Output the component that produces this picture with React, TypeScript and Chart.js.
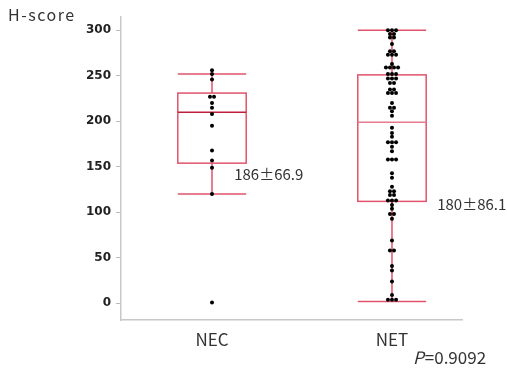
import React, { useEffect, useRef } from 'react';
import { Chart, registerables } from 'chart.js';

Chart.register(...registerables);

// ---- data ----
const categories = ['NEC', 'NET'];
const necValues = [256, 252, 246, 227, 227, 220, 215, 208, 195, 168, 157, 149, 120, 1];
const netValues = [
  300, 300, 300, 296, 296, 292, 292, 285, 277, 277, 273, 273, 273, 263,
  259, 259, 259, 259, 252, 252, 252, 247, 247, 247, 242, 242, 235, 235,
  231, 231, 231, 220, 215, 215, 211, 206, 193, 187, 183, 177, 177, 177,
  172, 167, 158, 158, 158, 143, 138, 128, 123, 123, 119, 119, 113, 113,
  113, 108, 104, 98, 98, 93, 69, 58, 58, 41, 36, 24, 9, 4, 4, 4,
];
const boxMin = [120, 2];
const boxQ1 = [154, 112];
const boxMedian = [210, 199];
const boxQ3 = [231, 251];
const boxMax = [252, 300];
const yTickValues = [0, 50, 100, 150, 200, 250, 300];
const summaryTexts = ['186\u00b166.9', '180\u00b186.1'];
const summaryAnchorY = [142, 109];
const pValueText = '=0.9092';

// ---- styling constants ----
const BOX_HALF = 0.19;
const DOT_SPACING = 0.0225;
const BOX_COLOR = '#e0536b';
const MEDIAN_COLORS = ['#c01f3c', '#e6798b'];
const FONT = '"Noto Sans CJK JP", "Noto Sans", sans-serif';

function swarm(values: number[], center: number) {
  const sorted = [...values].sort((a, b) => b - a);
  const groups: number[][] = [];
  for (const v of sorted) {
    const g = groups[groups.length - 1];
    if (g && g[0] === v) g.push(v);
    else groups.push([v]);
  }
  const pts: { x: number; y: number }[] = [];
  for (const g of groups) {
    g.forEach((v, i) => pts.push({ x: center + (i - (g.length - 1) / 2) * DOT_SPACING, y: v }));
  }
  return pts;
}

const boxPlugin = {
  id: 'boxes',
  beforeDatasetsDraw(chart: any) {
    const { ctx, scales } = chart;
    const xs = scales.x;
    const ys = scales.y;
    ctx.save();
    categories.forEach((_, i) => {
      const c = i + 1;
      const xl = xs.getPixelForValue(c - BOX_HALF);
      const xr = xs.getPixelForValue(c + BOX_HALF);
      const xc = xs.getPixelForValue(c);
      const yMin = ys.getPixelForValue(boxMin[i]);
      const yQ1 = ys.getPixelForValue(boxQ1[i]);
      const yMed = ys.getPixelForValue(boxMedian[i]);
      const yQ3 = ys.getPixelForValue(boxQ3[i]);
      const yMax = ys.getPixelForValue(boxMax[i]);
      ctx.lineWidth = 1.5;
      ctx.strokeStyle = BOX_COLOR;
      ctx.strokeRect(xl, yQ3, xr - xl, yQ1 - yQ3);
      ctx.beginPath();
      ctx.moveTo(xc, yQ3);
      ctx.lineTo(xc, yMax);
      ctx.moveTo(xc, yQ1);
      ctx.lineTo(xc, yMin);
      ctx.moveTo(xl, yMax);
      ctx.lineTo(xr, yMax);
      ctx.moveTo(xl, yMin);
      ctx.lineTo(xr, yMin);
      ctx.stroke();
      ctx.strokeStyle = MEDIAN_COLORS[i];
      ctx.beginPath();
      ctx.moveTo(xl, yMed);
      ctx.lineTo(xr, yMed);
      ctx.stroke();
    });
    ctx.restore();
  },
  afterDraw(chart: any) {
    const { ctx, scales } = chart;
    const xs = scales.x;
    const ys = scales.y;
    ctx.save();
    ctx.fillStyle = '#333';
    ctx.textBaseline = 'middle';
    ctx.textAlign = 'left';
    ctx.font = `16px ${FONT}`;
    (ctx as any).letterSpacing = '1.5px';
    ctx.fillText('H-score', 8, 15);
    (ctx as any).letterSpacing = '0px';
    ctx.font = `15px ${FONT}`;
    categories.forEach((_, i) => {
      const x = xs.getPixelForValue(i + 1 + BOX_HALF) + (i === 0 ? -12 : 11);
      const y = ys.getPixelForValue(summaryAnchorY[i]);
      ctx.fillText(summaryTexts[i], x, y);
    });
    ctx.font = `italic 17px ${FONT}`;
    const px = 413;
    const py = 358;
    ctx.fillText('P', px, py);
    const pw = ctx.measureText('P').width;
    ctx.font = `17px ${FONT}`;
    ctx.fillText(pValueText, px + pw + 1, py);
    ctx.restore();
  },
};

export default function App() {
  const ref = useRef<HTMLCanvasElement | null>(null);
  useEffect(() => {
    if (!ref.current) return;
    const chart = new Chart(ref.current, {
      type: 'scatter',
      data: {
        datasets: [
          {
            data: swarm(necValues, 1),
            backgroundColor: '#000',
            borderWidth: 0,
            pointRadius: 2,
          },
          {
            data: swarm(netValues, 2),
            backgroundColor: '#000',
            borderWidth: 0,
            pointRadius: 2,
          },
        ],
      },
      options: {
        responsive: false,
        animation: false,
        layout: { padding: { top: 17, right: 45, left: 0, bottom: 0 } },
        plugins: { legend: { display: false }, tooltip: { enabled: false } },
        scales: {
          x: {
            type: 'linear',
            min: 0.4944,
            max: 2.389,
            grid: { display: false },
            border: { display: true, color: '#c8c8c8', width: 1.5 },
            afterBuildTicks: (s: any) => {
              s.ticks = categories.map((_, i) => ({ value: i + 1 }));
            },
            afterFit: (s: any) => {
              s.height = 49;
            },
            ticks: {
              padding: 1,
              color: '#333',
              font: { family: FONT, size: 17 },
              callback: (v: any) => categories[Number(v) - 1] ?? '',
            },
          },
          y: {
            type: 'linear',
            min: -18.35,
            max: 314.6,
            grid: { drawOnChartArea: false, drawTicks: true, tickLength: 5, color: '#bbbbbb' },
            border: { display: true, color: '#c8c8c8', width: 1.5 },
            afterBuildTicks: (s: any) => {
              s.ticks = yTickValues.map((v) => ({ value: v }));
            },
            afterFit: (s: any) => {
              s.width = 121;
            },
            ticks: {
              padding: 5,
              color: '#222',
              font: { family: '"DejaVu Sans", sans-serif', size: 12, weight: 'bold' },
            },
          },
        },
      },
      plugins: [boxPlugin],
    });
    return () => chart.destroy();
  }, []);
  return (
    <div style={{ position: 'absolute', left: 0, top: 0, width: 507, height: 369 }}>
      <canvas ref={ref} width={507} height={369} style={{ display: 'block' }} />
    </div>
  );
}
